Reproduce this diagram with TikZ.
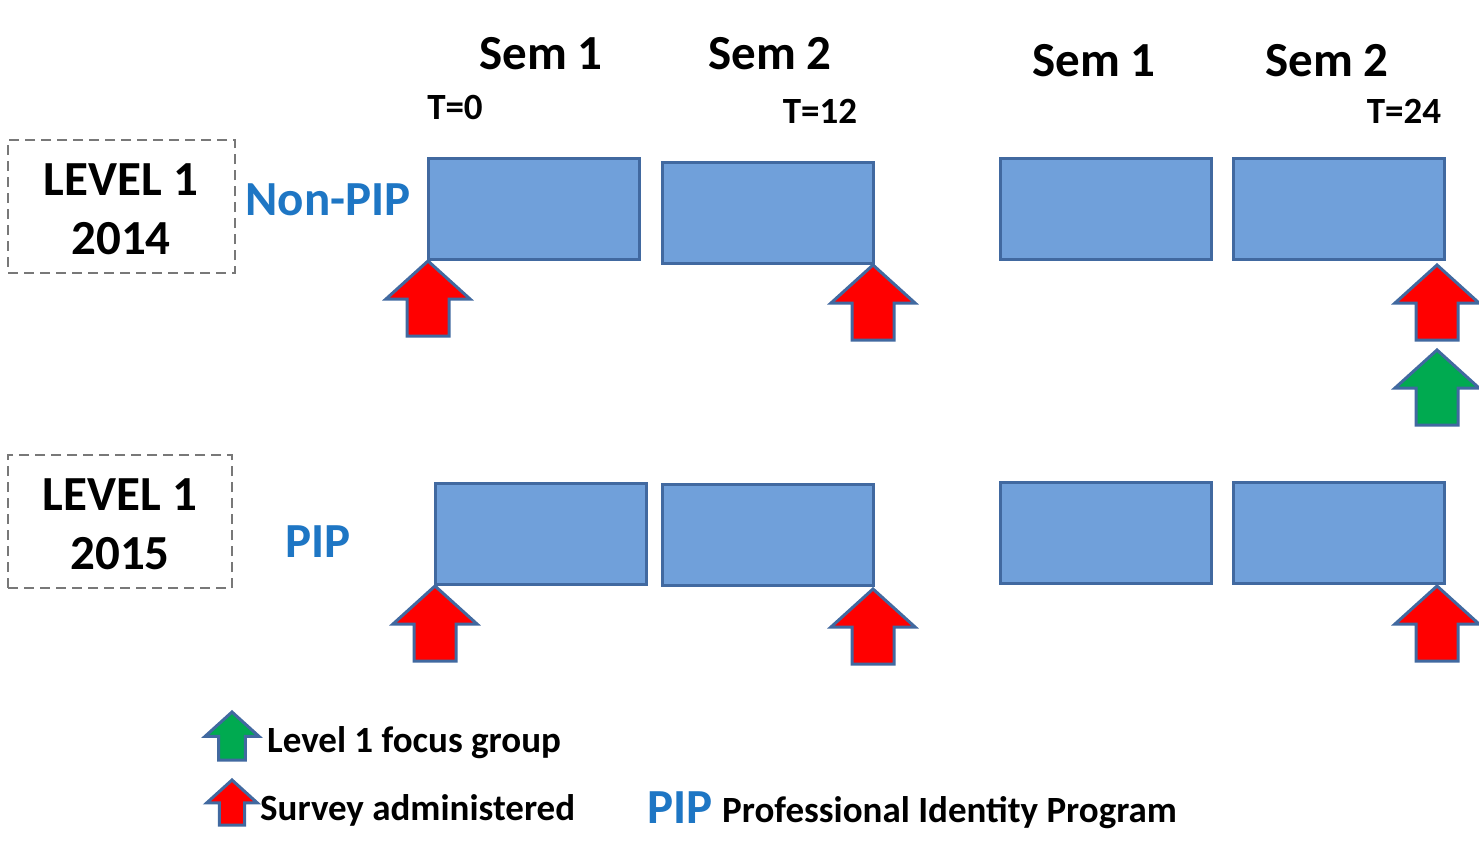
\documentclass[tikz,border=0pt]{standalone}
\usepackage{fontspec}
\setmainfont{Carlito}
\definecolor{boxfill}{RGB}{112,160,218}
\definecolor{boxline}{RGB}{65,105,160}
\definecolor{pipblue}{RGB}{30,118,196}
\definecolor{arrred}{RGB}{255,0,0}
\definecolor{arrgreen}{RGB}{0,170,80}
\definecolor{dashgray}{RGB}{120,120,120}
\tikzset{
  semb/.style={draw=boxline, fill=boxfill, line width=3pt, minimum width=211pt, minimum height=101pt, inner sep=0pt, outer sep=0pt, anchor=north west},
  lvlbox/.style={draw=dashgray, line width=1.5pt, dash pattern=on 10pt off 6pt, inner sep=0pt, outer sep=0pt, anchor=north west},
  semtxt/.style={font=\bfseries\fontsize{49}{54}\selectfont, anchor=base, inner sep=0pt},
  ttxt/.style={font=\bfseries\fontsize{37}{42}\selectfont, anchor=base, inner sep=0pt},
  lvltxt/.style={font=\bfseries\fontsize{49}{54}\selectfont, anchor=base, inner sep=0pt},
  grptxt/.style={font=\bfseries\fontsize{49}{54}\selectfont, text=pipblue, anchor=base, inner sep=0pt},
  legtxt/.style={font=\bfseries\fontsize{37}{42}\selectfont, anchor=base west, inner sep=0pt},
  arrline/.style={draw=boxline, line width=3pt, line join=miter},
}
\newcommand{\uparr}[4]{%
  \begin{scope}[shift={(#1,#2)}, scale=#4]
    \filldraw[arrline, fill=#3] (0,0) -- (42,38) -- (21,38) -- (21,75) -- (-21,75) -- (-21,38) -- (-42,38) -- cycle;
  \end{scope}}
\begin{document}
\begin{tikzpicture}[x=1pt,y=-1pt]
\useasboundingbox (0,0) rectangle (1479,864);
\fill[white] (0,0) rectangle (1479,864);

% level boxes
\node[lvlbox, minimum width=227pt, minimum height=133pt] (lv1) at (8,140) {};
\node[lvlbox, minimum width=224pt, minimum height=133pt] (lv2) at (8,455) {};
\node[lvltxt] (lv1a) at (121,195) {LEVEL 1};
\node[lvltxt] (lv1b) at (121,254) {2014};
\node[lvltxt] (lv2a) at (120,510) {LEVEL 1};
\node[lvltxt] (lv2b) at (120,569) {2015};

% group labels
\node[grptxt] (np) at (328,215) {Non-PIP};
\node[grptxt] (pip) at (318,557) {PIP};

% semester headings
\node[semtxt] (s11) at (541,70) {Sem 1};
\node[semtxt] (s12) at (770,70) {Sem 2};
\node[semtxt] (s21) at (1094,77) {Sem 1};
\node[semtxt] (s22) at (1327,77) {Sem 2};
\node[ttxt] (t0) at (455,120) {T=0};
\node[ttxt] (t12) at (820,124) {T=12};
\node[ttxt] (t24) at (1404,124) {T=24};

% semester boxes row 1
\node[semb] (a1) at (428,158) {};
\node[semb] (b1) at (662,162) {};
\node[semb] (c1) at (1000,158) {};
\node[semb] (d1) at (1233,158) {};
% row 2
\node[semb] (a2) at (435,483) {};
\node[semb] (b2) at (662,484) {};
\node[semb] (c2) at (1000,482) {};
\node[semb] (d2) at (1233,482) {};

% survey arrows
\uparr{428}{261}{arrred}{1}
\uparr{873}{265}{arrred}{1}
\uparr{1437}{265}{arrred}{1}
\uparr{1437}{350}{arrgreen}{1}
\uparr{435}{586}{arrred}{1}
\uparr{873}{589}{arrred}{1}
\uparr{1437}{586}{arrred}{1}

% legend
\uparr{232}{712}{arrgreen}{0.64}
\uparr{232}{780}{arrred}{0.6}
\node[legtxt] (lg1) at (267,752) {Level 1 focus group};
\node[legtxt] (lg2) at (260,820) {Survey administered};
\node[legtxt, font=\bfseries\fontsize{49}{54}\selectfont, text=pipblue] (lg3) at (647,823) {PIP};
\node[legtxt] (lg4) at (722,822) {Professional Identity Program};
\end{tikzpicture}
\end{document}
